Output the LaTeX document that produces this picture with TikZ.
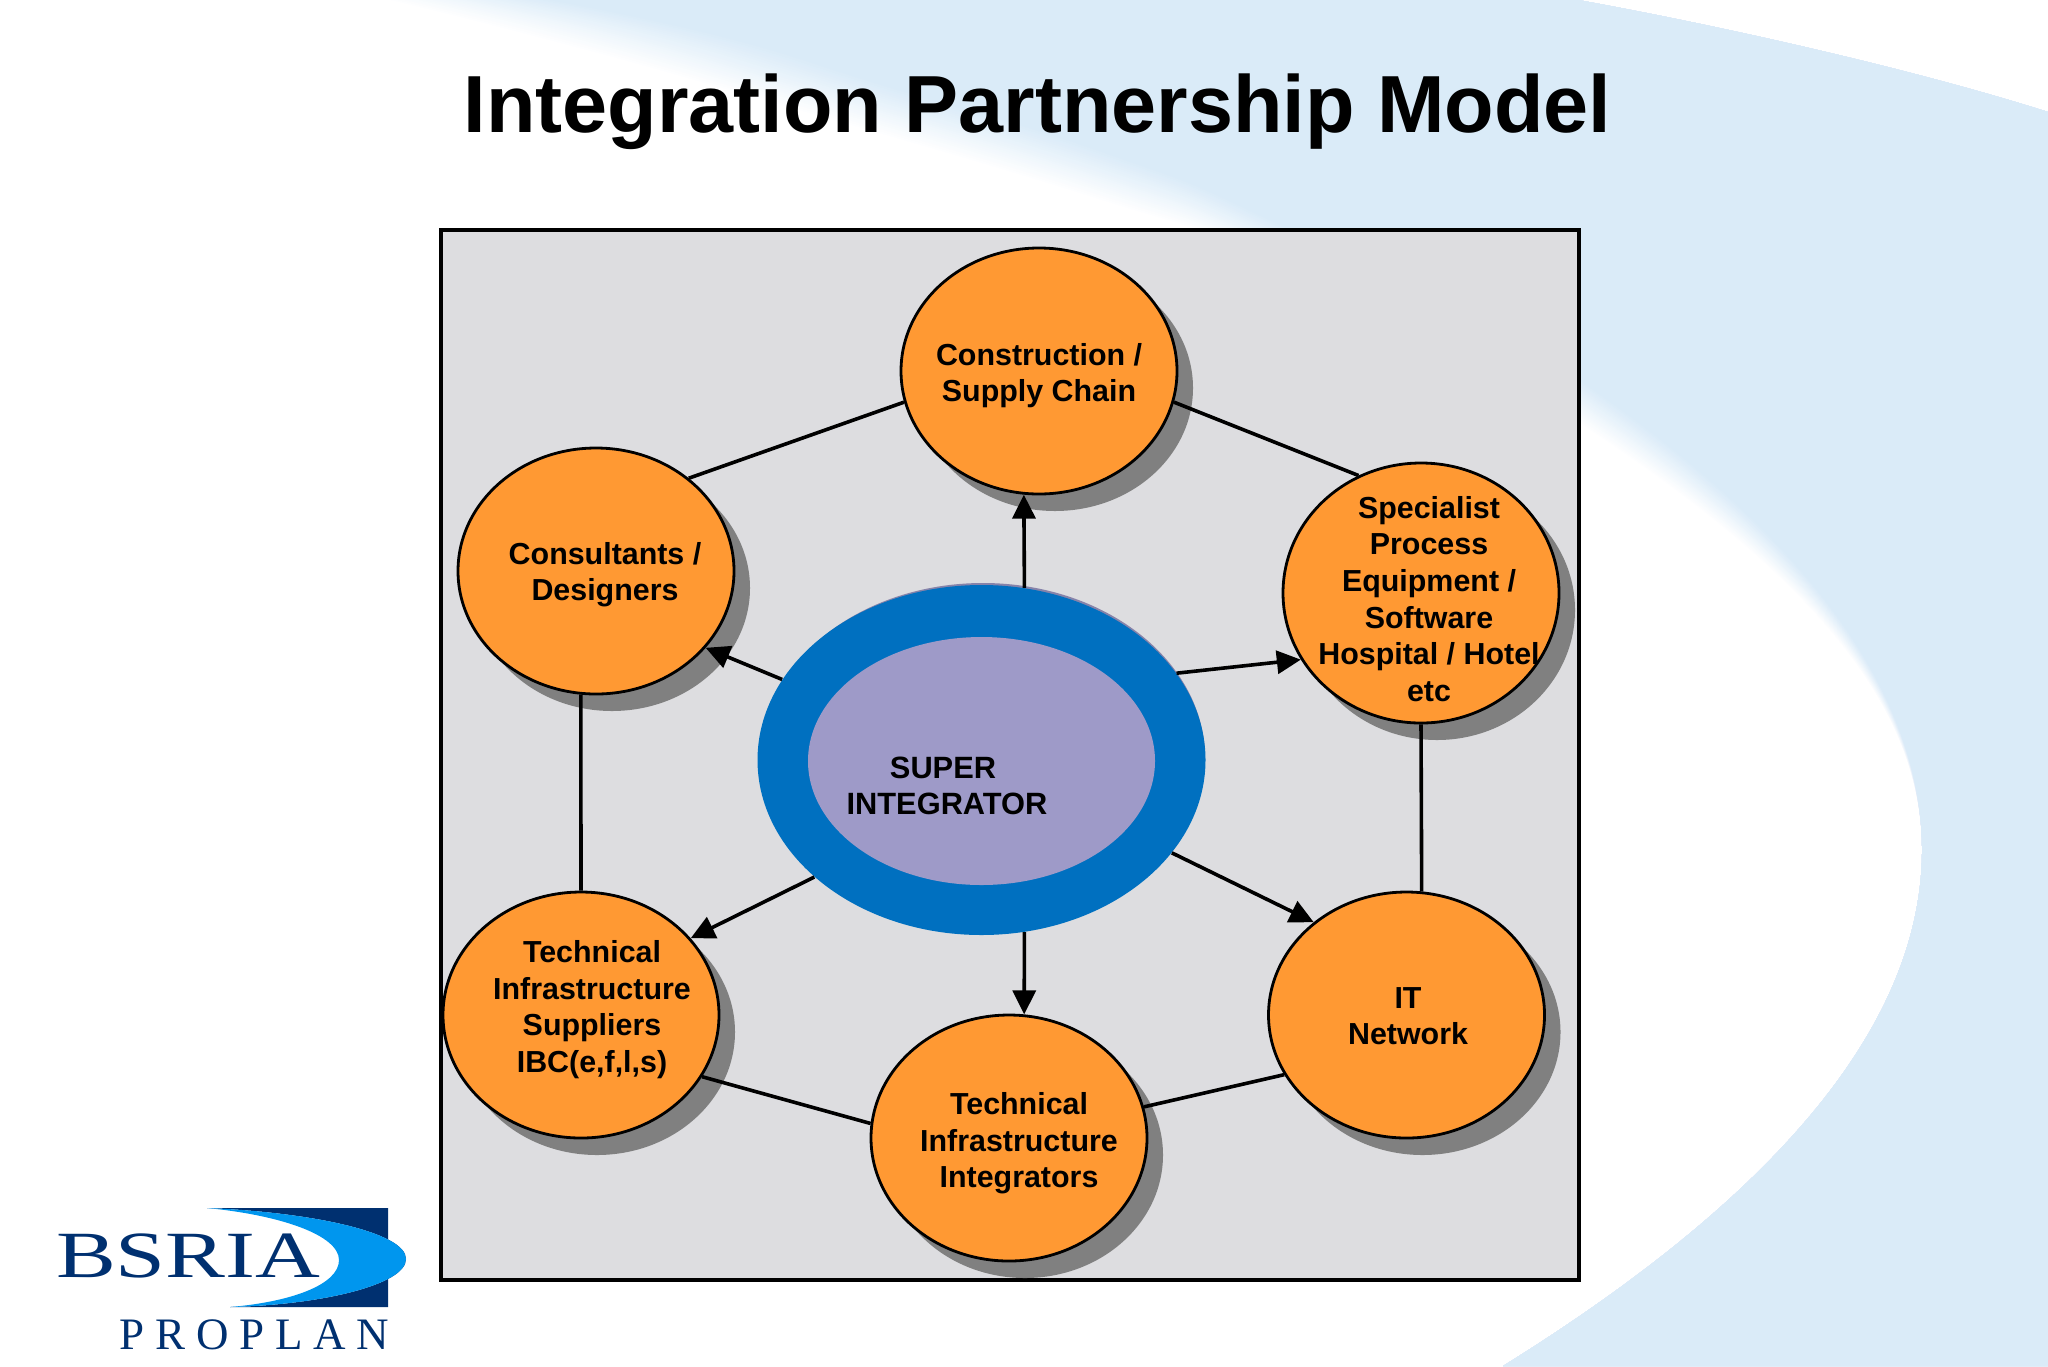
\documentclass[tikz,border=0pt]{standalone}
\usepackage{fontspec}
\setmainfont{Liberation Sans}
\newfontfamily\logofont{Liberation Serif}
\newfontfamily\proplanfont[LetterSpace=24]{Liberation Serif}
\usetikzlibrary{calc,shapes.geometric,shadows,arrows.meta}

\definecolor{skyfill}{HTML}{DAEBF8}
\definecolor{panelgrey}{HTML}{DDDDE0}
\definecolor{partnerorange}{HTML}{FF9933}
\definecolor{shadowgrey}{HTML}{808080}
\definecolor{ringblue}{HTML}{0070C0}
\definecolor{corelilac}{HTML}{9E9AC8}
\definecolor{logonavy}{HTML}{003070}
\definecolor{logoblue}{HTML}{0096EE}

\tikzset{
  partner/.style={ellipse, draw=black, line width=1.4pt, fill=partnerorange,
    minimum width=138pt, minimum height=123pt, inner sep=0pt,
    drop shadow={shadow xshift=8pt, shadow yshift=-8.5pt, fill=shadowgrey, opacity=1}},
  partnerlabel/.style={align=center, inner sep=0pt, font=\fontsize{15.2}{18.3}\selectfont\bfseries},
  corering/.style={ellipse, inner sep=0pt, minimum width=#1},
  link/.style={draw=black, line width=1.8pt},
  flow/.style={link, -{Triangle[length=12pt,width=11.5pt]}},
}

\begin{document}
\begin{tikzpicture}[x=.5pt, y=-.5pt]
\useasboundingbox (0,0) rectangle (2048,1366);

% background swoosh, soft along its upper edge
\foreach \p/\hx/\hy/\sx/\sy in {1/550/0/385/0, 2/723/37/531/37, 3/888/87/723/90,
    4/1105/153/1090/198, 5/1284/227/1265/262, 6/1582/382/1565/415, 7/1809/538/1790/560} {
  \coordinate (h\p) at (\hx,\hy);
  \coordinate (s\p) at (\sx,\sy);
}
\foreach \i in {24,...,0} {
  \pgfmathsetmacro\t{\i/24}
  \pgfmathsetmacro\m{100*(1-\t)}
  \fill[skyfill!\m!white] plot[smooth, tension=.8] coordinates {
      ($(h1)!\t!(s1)$) ($(h2)!\t!(s2)$) ($(h3)!\t!(s3)$) ($(h4)!\t!(s4)$) ($(h5)!\t!(s5)$)
      ($(h6)!\t!(s6)$)}
    .. controls ($(h7)!\t!(s7)$) and (1922,694) .. (1922,850)
    .. controls (1922,1022) and (1780,1194) .. (1503,1366)
    -- (2048,1366) -- (2048,112) .. controls (1900,65) and (1700,22) .. (1578,0) -- cycle;
}

\node[inner sep=0pt, anchor=base, font=\fontsize{40.5}{40.5}\selectfont\bfseries] (title) at (1037.5,132) {Integration Partnership Model};

\draw[fill=panelgrey, draw=black, line width=1.6pt] (441,230) rectangle (1579,1280);

% partners
\node[partner] (construction) at (1039,371) {};
\node[partner] (consultants) at (596,571) {};
\node[partner, minimum height=130pt] (specialist) at (1421,593) {};
\node[partner] (suppliers) at (581,1015) {};
\node[partner] (integrators) at (1009,1138) {};
\node[partner] (network) at (1406.5,1015) {};

\node[partnerlabel] (constructionlabel) at (1039,375.5) {Construction /\\Supply Chain};
\node[partnerlabel] (consultantslabel) at (605,574.5) {Consultants /\\Designers};
\node[partnerlabel] (specialistlabel) at (1429,599) {Specialist\\Process\\Equipment /\\Software\\Hospital / Hotel\\etc};
\node[partnerlabel] (supplierslabel) at (592,1009.5) {Technical\\Infrastructure\\Suppliers\\IBC(e,f,l,s)};
\node[partnerlabel] (integratorslabel) at (1019,1143.5) {Technical\\Infrastructure\\Integrators};
\node[partnerlabel] (networklabel) at (1408,1016) {IT\\Network};

% super integrator
\node[corering=222pt, minimum height=175pt, fill=corelilac!85!black] (superback) at (983,758) {};
\node[corering=224pt, minimum height=175pt, fill=ringblue] (super) at (981.5,760) {};
\node[corering=173.5pt, minimum height=124pt, fill=corelilac] (supercore) at (981.5,761) {};
\node[partnerlabel, font=\fontsize{15.4}{18.3}\selectfont\bfseries] (superlabel) at (947,786) {SUPER\hspace*{4pt}\\INTEGRATOR};

% ring of partners
\draw[link] (construction.193) -- (consultants.45);
\draw[link] (construction.347) -- (specialist.118);
\draw[link] (consultants.263) -- (suppliers.90);
\draw[link] (specialist.270) -- (network.83.2);
\draw[link] (suppliers.333) -- (integrators.174);
\draw[link] (integrators.13.5) -- (network.206);

% from the centre out
\draw[flow] (super.76.1) -- (construction.263);
\draw[flow] (super.284.7) -- (integrators.83);
\draw[flow] (super.158) -- (consultants.325);
\draw[flow] (super.24) -- (specialist.209);
\draw[flow] (super.215.5) -- (suppliers.35);
\draw[flow] (super.334.5) -- (network.135);

% logo
\fill[logonavy] (207,1208) -- (388,1208) -- (388,1307) -- (230,1307)
  .. controls (320,1305) and (406,1285) .. (406,1259)
  .. controls (406,1232) and (310,1212) .. (207,1208) -- cycle;
\fill[logoblue] (207,1208) .. controls (310,1212) and (406,1232) .. (406,1259)
  .. controls (406,1285) and (320,1305) .. (230,1307)
  .. controls (290,1302) and (339,1285) .. (339,1260)
  .. controls (339,1235) and (280,1215) .. (207,1208) -- cycle;
\node[anchor=base west, inner sep=0pt, text=logonavy, xscale=1.36, transform shape, font=\fontsize{33}{33}\selectfont\logofont] (bsria) at (55.5,1277) {BSRIA};
\node[anchor=base west, inner sep=0pt, text=logonavy, font=\fontsize{22.5}{22.5}\selectfont\proplanfont] (proplan) at (119,1349) {PROPLAN};
\end{tikzpicture}
\end{document}
